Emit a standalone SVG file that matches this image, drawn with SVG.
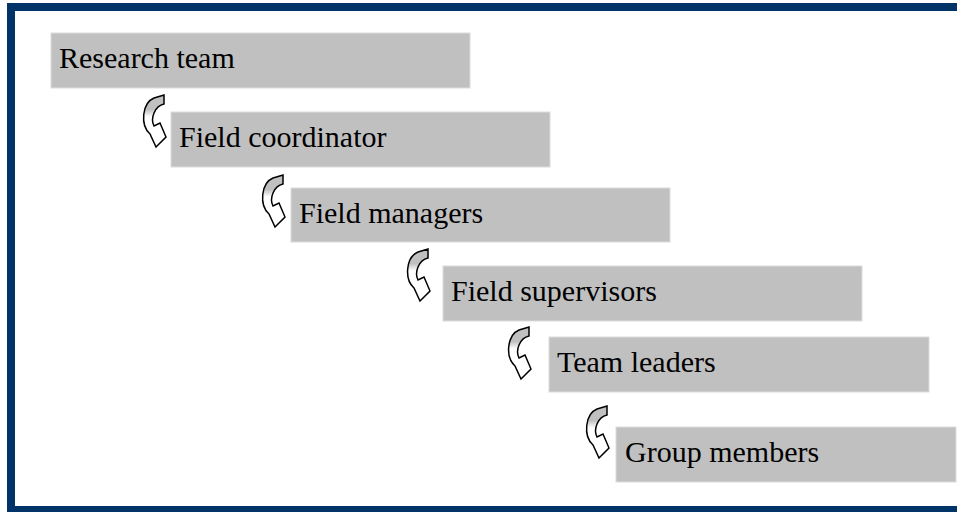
<svg xmlns="http://www.w3.org/2000/svg" width="957" height="512" viewBox="0 0 957 512">
  <style>
    .box { fill: #c0c0c0; stroke: #dcdcdc; stroke-width: 1; }
    .lbl { font-family: "Liberation Serif", "Times New Roman", serif; font-size: 30px; fill: #000; }
    .arr { fill: url(#ag); stroke: #000; stroke-width: 1.5; stroke-linejoin: miter; }
  </style>
  <defs>
    <linearGradient id="ag" x1="0" y1="0" x2="0" y2="1">
      <stop offset="0" stop-color="#c0c0c0"/>
      <stop offset="0.28" stop-color="#c0c0c0"/>
      <stop offset="0.42" stop-color="#ffffff"/>
      <stop offset="1" stop-color="#ffffff"/>
    </linearGradient>
    <path id="carrow" d="M 11,4 L 21,1 L 21,10 C 12,12 7,24 11,32 L 17,29 L 23,43 L 13,53 L 7,40 C -3,31 -1,9 11,4 Z"/>
  </defs>
  <rect x="0" y="0" width="957" height="512" fill="#ffffff"/>
  <rect id="frame" x="11" y="7" width="960" height="503" fill="none" stroke="#003468" stroke-width="8"/>

  <g id="connectors">
    <use href="#carrow" class="arr" transform="translate(143,94)"/>
    <use href="#carrow" class="arr" transform="translate(262,174)"/>
    <use href="#carrow" class="arr" transform="translate(407,248)"/>
    <use href="#carrow" class="arr" transform="translate(508,326)"/>
    <use href="#carrow" class="arr" transform="translate(586,405)"/>
  </g>

  <g id="research-team">
    <rect class="box" x="51" y="33" width="419" height="55"/>
    <text class="lbl" x="59" y="68">Research team</text>
  </g>
  <g id="field-coordinator">
    <rect class="box" x="171" y="112" width="379" height="55"/>
    <text class="lbl" x="179" y="147">Field coordinator</text>
  </g>
  <g id="field-managers">
    <rect class="box" x="291" y="188" width="379" height="54"/>
    <text class="lbl" x="299" y="223">Field managers</text>
  </g>
  <g id="field-supervisors">
    <rect class="box" x="443" y="266" width="419" height="55"/>
    <text class="lbl" x="451" y="301">Field supervisors</text>
  </g>
  <g id="team-leaders">
    <rect class="box" x="549" y="337" width="380" height="55"/>
    <text class="lbl" x="557" y="372">Team leaders</text>
  </g>
  <g id="group-members">
    <rect class="box" x="616" y="427" width="340" height="55"/>
    <text class="lbl" x="625" y="462">Group members</text>
  </g>
</svg>
